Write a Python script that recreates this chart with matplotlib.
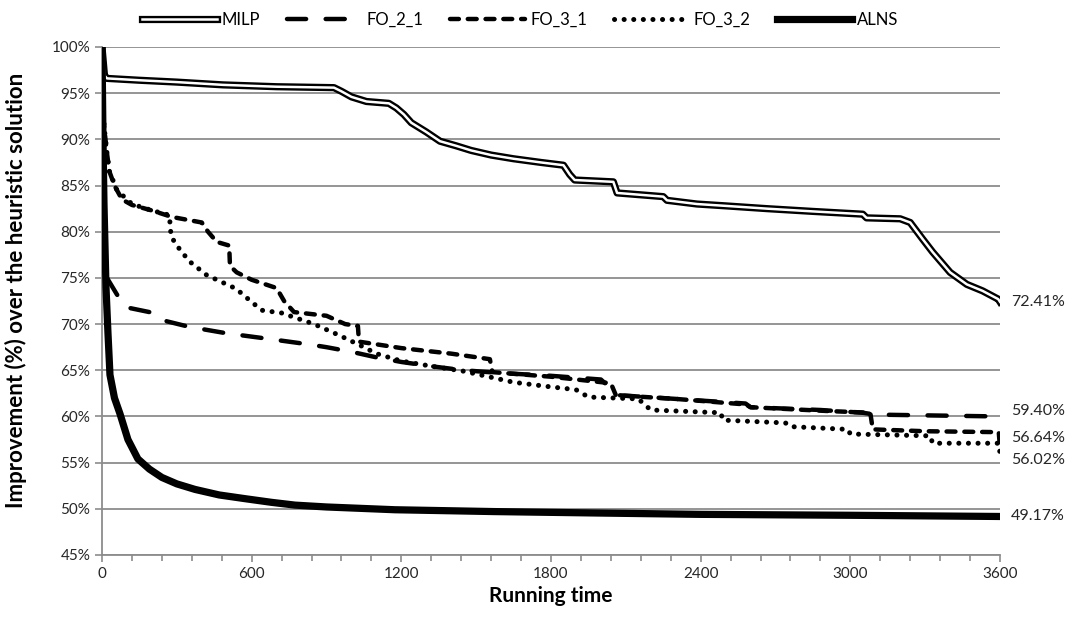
import matplotlib
matplotlib.use("Agg")
import matplotlib.pyplot as plt
from matplotlib.ticker import MultipleLocator, PercentFormatter

plt.rcParams['font.family'] = ['Lato', 'DejaVu Sans']

# time (s) and improvement (%) for each method
milp_t = [0, 10, 20, 150, 300, 485, 700, 930, 960, 1000, 1060, 1150, 1180, 1210, 1240,
          1300, 1355, 1420, 1480, 1560, 1650, 1760, 1850, 1875, 1895, 2050, 2065, 2250,
          2265, 2385, 2500, 2665, 2850, 3050, 3065, 3200, 3240, 3290, 3330, 3400, 3467,
          3530, 3593, 3600]
milp_v = [100, 96.9, 96.6, 96.4, 96.2, 95.9, 95.7, 95.6, 95.2, 94.6, 94.1, 93.9, 93.4, 92.7,
          91.8, 90.8, 89.8, 89.3, 88.8, 88.3, 87.9, 87.5, 87.2, 86.2, 85.6, 85.4, 84.2, 83.8,
          83.4, 83.0, 82.8, 82.5, 82.2, 81.9, 81.5, 81.4, 81.0, 79.2, 77.8, 75.6, 74.3,
          73.6, 72.7, 72.41]

fo21_t = [0, 10, 20, 60, 100, 190, 260, 350, 500, 640, 830, 900, 1000, 1100, 1200, 1330,
          1450, 1600, 1800, 2000, 2070, 2300, 2580, 2600, 2880, 3050, 3100, 3595, 3600]
fo21_v = [100, 76, 75, 73.2, 71.8, 71.3, 70.3, 69.7, 69.0, 68.5, 67.8, 67.5, 67.0, 66.4,
          65.9, 65.4, 65.0, 64.7, 64.4, 64.0, 62.3, 61.9, 61.4, 61.0, 60.7, 60.4, 60.2,
          60.0, 59.40]

fo31_t = [0, 3, 12, 20, 30, 50, 80, 120, 200, 280, 400, 425, 460, 510, 513, 540, 600, 700,
          730, 770, 900, 975, 1026, 1030, 1200, 1400, 1555, 1565, 1800, 2040, 2060, 2300,
          2580, 2600, 2900, 3080, 3090, 3300, 3595, 3600]
fo31_v = [100, 93, 90.5, 88.5, 86.5, 85.0, 83.5, 82.9, 82.3, 81.6, 81.0, 80.0, 78.9, 78.5,
          76.3, 75.6, 74.8, 73.9, 72.5, 71.3, 70.9, 70.0, 69.8, 68.1, 67.4, 66.8, 66.2,
          64.8, 64.3, 63.6, 62.3, 61.9, 61.3, 61.0, 60.6, 60.4, 58.6, 58.4, 58.3, 56.64]

fo32_t = [0, 3, 12, 20, 30, 60, 120, 200, 270, 277, 300, 350, 420, 540, 560, 640, 720, 850,
          950, 1050, 1100, 1200, 1330, 1450, 1650, 1800, 1900, 1950, 2150, 2200, 2480, 2490,
          2740, 2760, 2990, 3000, 3320, 3330, 3595, 3600]
fo32_v = [100, 93, 90.5, 88.5, 86.5, 84.5, 83.0, 82.3, 81.8, 79.5, 78.5, 76.8, 75.3, 73.8,
          73.3, 71.5, 71.2, 70.0, 68.8, 67.5, 66.8, 66.0, 65.4, 64.9, 63.7, 63.2, 62.9,
          62.1, 61.9, 60.7, 60.4, 59.6, 59.3, 58.9, 58.6, 58.1, 57.9, 57.1, 57.1, 56.02]

alns_t = [0, 4, 8, 16, 24, 32, 50, 72, 104, 144, 190, 240, 300, 373, 470, 573, 680, 774,
          900, 1174, 1575, 1976, 2400, 3000, 3600]
alns_v = [100, 90, 83, 74, 69, 64.5, 62, 60.3, 57.5, 55.4, 54.3, 53.4, 52.7, 52.1, 51.5,
          51.1, 50.7, 50.4, 50.2, 49.9, 49.7, 49.55, 49.4, 49.3, 49.17]

end_labels = ['72.41%', '59.40%', '56.64%', '56.02%', '49.17%']
end_values = [72.41, 59.40, 56.64, 56.02, 49.17]
label_shift = [0, 8, 7, -5, 0]   # points, to keep the labels apart

GRID = '#8c8c8c'
TEXT = '#262626'


def main():
    fig = plt.figure(figsize=(10.77, 6.25), dpi=100)
    ax = fig.add_axes([0.0947, 0.112, 0.8338, 0.8128])

    # MILP is a double line: thick black with a white core
    m_out, = ax.plot(milp_t, milp_v, color='black', lw=5.2, solid_joinstyle='round', zorder=3)
    m_in, = ax.plot(milp_t, milp_v, color='white', lw=1.8, solid_joinstyle='round', zorder=4)

    l21, = ax.plot(fo21_t, fo21_v, color='black', lw=3.2, dashes=(4.3, 4.4),
                   dash_capstyle='round', zorder=3)
    l31, = ax.plot(fo31_t, fo31_v, color='black', lw=3.2, dashes=(2.0, 2.0),
                   dash_capstyle='round', zorder=3)
    l32, = ax.plot(fo32_t, fo32_v, color='black', lw=3.6, dashes=(0.02, 1.9),
                   dash_capstyle='round', zorder=3)
    la, = ax.plot(alns_t, alns_v, color='black', lw=5.2, solid_joinstyle='round', zorder=5)

    for lab, val, dy in zip(end_labels, end_values, label_shift):
        ax.annotate(lab, xy=(3600, val), xytext=(8, dy), textcoords='offset points',
                    ha='left', va='center', fontsize=11.5, color=TEXT, annotation_clip=False)

    ax.set_xlim(0, 3600)
    ax.set_ylim(45, 100)
    ax.xaxis.set_major_locator(MultipleLocator(600))
    ax.xaxis.set_minor_locator(MultipleLocator(120))
    ax.yaxis.set_major_locator(MultipleLocator(5))
    ax.yaxis.set_major_formatter(PercentFormatter(xmax=100, decimals=0))

    ax.grid(axis='y', color=GRID, lw=1.3)
    ax.set_axisbelow(True)
    for s in ['top', 'right']:
        ax.spines[s].set_visible(False)
    for s in ['left', 'bottom']:
        ax.spines[s].set_color(GRID)
        ax.spines[s].set_linewidth(1.3)
    ax.tick_params(axis='both', which='both', direction='out', color=GRID, width=1.2,
                   labelsize=11, labelcolor=TEXT)
    ax.tick_params(axis='both', which='major', length=5)
    ax.tick_params(axis='x', which='minor', length=4)

    ax.set_xlabel('Running time', fontsize=15, fontweight='bold', color='black')
    ax.set_ylabel('Improvement (%) over the heuristic solution', fontsize=16,
                  fontweight='bold', color='black')
    ax.xaxis.set_label_coords(0.5, -0.062)
    ax.yaxis.set_label_coords(-0.083, 0.52)

    fig.legend([(m_out, m_in), l21, l31, l32, la], ['MILP', 'FO_2_1', 'FO_3_1', 'FO_3_2', 'ALNS'],
               loc='upper center', bbox_to_anchor=(0.483, 1.005), ncol=5, frameon=False,
               fontsize=12, handlelength=4.5, columnspacing=1.6, handletextpad=0.3)

    fig.savefig('out.png', dpi=100)


if __name__ == "__main__":
    main()
